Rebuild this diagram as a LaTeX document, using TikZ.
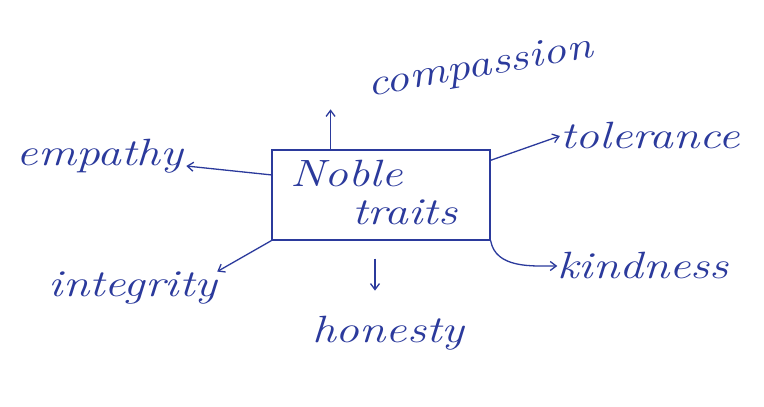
\documentclass[tikz,border=0pt]{standalone}
\usetikzlibrary{calc,arrows.meta}
\definecolor{ink}{HTML}{2B3A9C}
\newcommand{\hwtext}[1]{\scalebox{1.25}[1]{#1}}
\begin{document}
\begin{tikzpicture}[x=1pt,y=-1pt,
  word/.style={color=ink, font=\fontsize{38}{42}\selectfont\itshape, inner sep=0pt},
  arr/.style={color=ink, line width=1.3pt, -{Straight Barb[length=6pt,width=9pt]}},
  boxstyle/.style={draw=ink, line width=1.3pt, minimum width=218pt, minimum height=90pt, inner sep=0pt}]
\fill[white] (0,0) rectangle (764,407);
\useasboundingbox (0,0) rectangle (764,407);
\node[boxstyle] (noble) at (381,195) {};
\node[word, align=left, anchor=west] (nobletext) at (290,193) {\hwtext{Noble}\\[-4pt] \hspace*{62pt}\hwtext{traits}};
\node[word, rotate=10] (compassion) at (480,68) {\hwtext{compassion}};
\node[word] (empathy) at (100,156) {\hwtext{empathy}};
\node[word] (tolerance) at (650,136) {\hwtext{tolerance}};
\node[word] (kindness) at (643,266) {\hwtext{kindness}};
\node[word] (integrity) at (133,288) {\hwtext{integrity}};
\node[word] (honesty) at (388,333) {\hwtext{honesty}};
\draw[arr] ($(noble.north west)!0.27!(noble.north east)$) -- ($(noble.north west)!0.27!(noble.north east)+(0,-40)$);
\draw[arr] ($(noble.north west)!0.28!(noble.south west)$) -- ($(empathy.east)+(3,10)$);
\draw[arr] ($(noble.north east)!0.12!(noble.south east)$) -- (tolerance.west);
\draw[arr] (noble.south east) .. controls +(5,28) and +(-25,0) .. (kindness.west);
\draw[arr] (noble.south west) -- (integrity.north east);
\draw[arr] ($(noble.south)+(-6,18)$) -- ($(noble.south)+(-6,50)$);
\end{tikzpicture}
\end{document}
